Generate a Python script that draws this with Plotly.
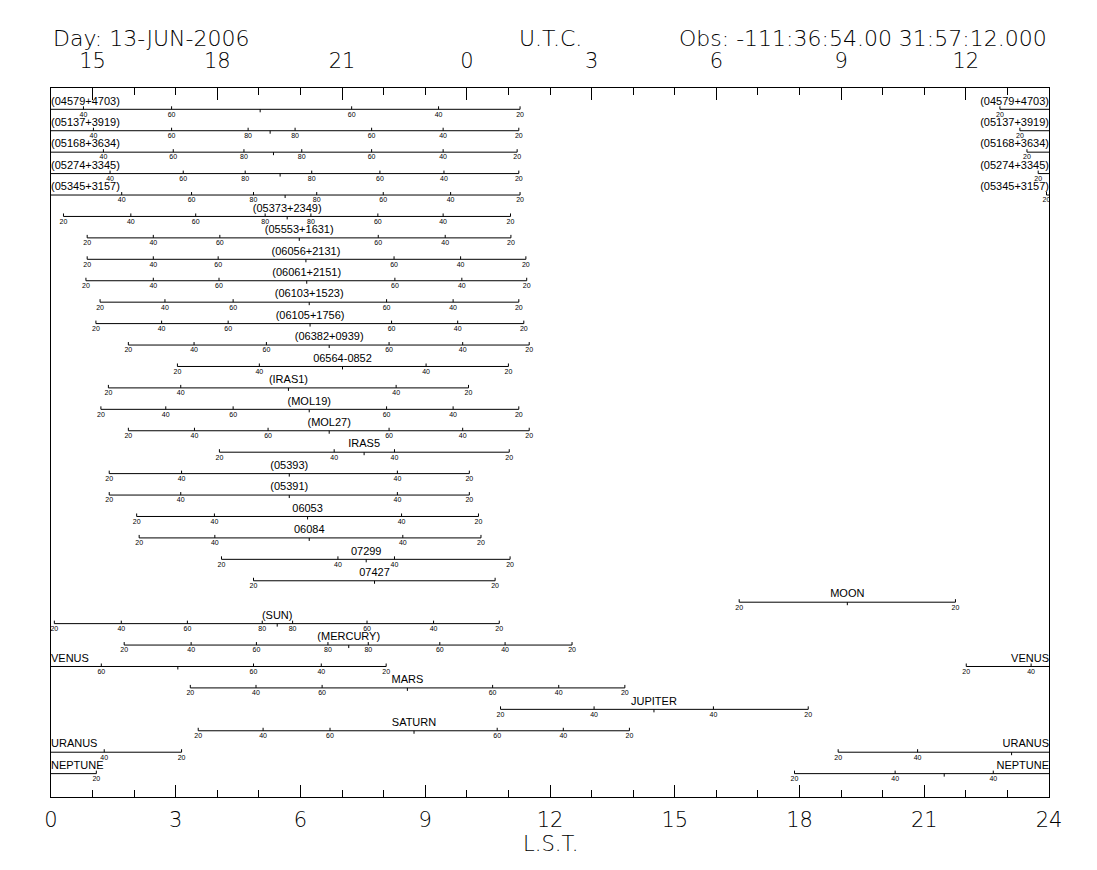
import plotly.graph_objects as go

# header / axis texts
day_text = "Day: 13-JUN-2006"
utc_title = "U.T.C."
obs_text = "Obs: -111:36:54.00 31:57:12.000"
lst_title = "L.S.T."

# bottom axis is LST, top axis prints UTC (UTC = LST + 14 h)
lst_hours = [0, 3, 6, 9, 12, 15, 18, 21, 24]
utc_hours = [15, 18, 21, 0, 3, 6, 9, 12]
utc_minus_lst = 14

names = [
    "(04579+4703)", "(05137+3919)", "(05168+3634)", "(05274+3345)",
    "(05345+3157)", "(05373+2349)", "(05553+1631)", "(06056+2131)",
    "(06061+2151)", "(06103+1523)", "(06105+1756)", "(06382+0939)",
    "06564-0852", "(IRAS1)", "(MOL19)", "(MOL27)", "IRAS5", "(05393)",
    "(05391)", "06053", "06084", "07299", "07427", "MOON", "(SUN)",
    "(MERCURY)", "VENUS", "MARS", "JUPITER", "SATURN", "URANUS", "NEPTUNE",
]

# LST of transit (meridian crossing) for each object
transit = [
    5.03, 5.27, 5.35, 5.51, 5.63, 5.68, 5.97, 6.13, 6.15, 6.21, 6.23, 6.69,
    7.01, 5.71, 6.21, 6.69, 7.53, 5.73, 5.73, 6.17, 6.21, 7.58, 7.78, 19.15,
    5.44, 7.16, 3.05, 8.57, 14.50, 8.73, 23.10, 21.48,
]

# LST where the object crosses each elevation, in time order (rise -> set)
tick_lst = [
    [22.82, 0.78, 2.90, 7.23, 9.32, 11.28],
    [23.30, 1.02, 2.90, 4.74, 5.87, 7.71, 9.43, 11.25],
    [23.47, 1.26, 2.94, 4.64, 6.03, 7.71, 9.43, 11.21],
    [23.74, 1.42, 3.18, 4.67, 6.27, 7.91, 9.45, 11.25],
    [23.94, 1.70, 3.38, 4.87, 6.39, 7.99, 9.61, 11.28],
    [0.30, 1.92, 3.48, 5.15, 6.25, 7.86, 9.43, 11.05],
    [0.87, 2.46, 4.06, 7.87, 9.48, 11.06],
    [0.87, 2.46, 4.02, 8.25, 9.85, 11.42],
    [0.84, 2.46, 4.04, 8.27, 9.88, 11.44],
    [1.18, 2.74, 4.38, 8.07, 9.67, 11.25],
    [1.08, 2.66, 4.26, 8.19, 9.78, 11.37],
    [1.86, 3.44, 5.18, 8.13, 9.90, 11.50],
    [3.04, 5.01, 9.02, 11.00],
    [1.38, 3.12, 8.30, 10.04],
    [1.20, 2.76, 4.38, 8.07, 9.67, 11.25],
    [1.86, 3.45, 5.22, 8.13, 9.90, 11.50],
    [4.05, 6.81, 8.26, 11.02],
    [1.40, 3.14, 8.33, 10.06],
    [1.40, 3.12, 8.33, 10.06],
    [2.06, 3.93, 8.43, 10.28],
    [2.12, 3.94, 8.46, 10.34],
    [4.10, 6.90, 8.26, 11.04],
    [4.87, 10.68],
    [16.55, 21.75],
    [0.08, 1.69, 3.28, 5.08, 5.81, 7.60, 9.20, 10.78],
    [1.76, 3.37, 4.94, 6.66, 7.63, 9.35, 10.92, 12.53],
    [22.01, 23.57, 1.21, 4.87, 6.50, 8.06],
    [3.35, 4.93, 6.52, 10.62, 12.21, 13.80],
    [10.81, 13.06, 15.93, 18.21],
    [3.54, 5.10, 6.71, 10.73, 12.32, 13.91],
    [18.93, 20.84, 1.28, 3.14],
    [17.88, 20.30, 22.66, 1.09],
]

tick_elev = [
    [20, 40, 60, 60, 40, 20],
    [20, 40, 60, 80, 80, 60, 40, 20],
    [20, 40, 60, 80, 80, 60, 40, 20],
    [20, 40, 60, 80, 80, 60, 40, 20],
    [20, 40, 60, 80, 80, 60, 40, 20],
    [20, 40, 60, 80, 80, 60, 40, 20],
    [20, 40, 60, 60, 40, 20],
    [20, 40, 60, 60, 40, 20],
    [20, 40, 60, 60, 40, 20],
    [20, 40, 60, 60, 40, 20],
    [20, 40, 60, 60, 40, 20],
    [20, 40, 60, 60, 40, 20],
    [20, 40, 40, 20],
    [20, 40, 40, 20],
    [20, 40, 60, 60, 40, 20],
    [20, 40, 60, 60, 40, 20],
    [20, 40, 40, 20],
    [20, 40, 40, 20],
    [20, 40, 40, 20],
    [20, 40, 40, 20],
    [20, 40, 40, 20],
    [20, 40, 40, 20],
    [20, 20],
    [20, 20],
    [20, 40, 60, 80, 80, 60, 40, 20],
    [20, 40, 60, 80, 80, 60, 40, 20],
    [20, 40, 60, 60, 40, 20],
    [20, 40, 60, 60, 40, 20],
    [20, 40, 40, 20],
    [20, 40, 60, 60, 40, 20],
    [20, 40, 40, 20],
    [20, 40, 40, 20],
]

TICK = 0.14      # tick length in row units (~3 px)
NAME_UP = 0.35   # name sits above its line
LAB_DN = 0.26    # elevation numbers sit below the line

line_x, line_y = [], []
up_x, up_y = [], []
dn_x, dn_y = [], []
lab_x, lab_y, lab_t = [], [], []
name_x, name_y, name_t, name_pos = [], [], [], []

for i, name in enumerate(names):
    xs = tick_lst[i]
    rise, sett = xs[0], xs[-1]
    if rise > sett:
        # object wraps past 24h: two pieces, name at both edges
        line_x += [rise, 24, None, 0, sett, None]
        line_y += [i, i, None, i, i, None]
        name_x += [0, 24]
        name_y += [i - NAME_UP, i - NAME_UP]
        name_t += [name, name]
        name_pos += ["middle right", "middle left"]
    else:
        line_x += [rise, sett, None]
        line_y += [i, i, None]
        name_x.append(transit[i])
        name_y.append(i - NAME_UP)
        name_t.append(name)
        name_pos.append("middle center")
    for x, e in zip(xs, tick_elev[i]):
        up_x += [x, x, None]
        up_y += [i, i - TICK, None]
        lab_x.append(x)
        lab_y.append(i + LAB_DN)
        lab_t.append(str(e))
    dn_x += [transit[i], transit[i], None]
    dn_y += [i, i + TICK, None]

fig = go.Figure()
line_style = dict(color="black", width=1)
fig.add_trace(go.Scatter(x=line_x, y=line_y, mode="lines", line=line_style,
                         hoverinfo="skip"))
fig.add_trace(go.Scatter(x=up_x, y=up_y, mode="lines", line=line_style,
                         hoverinfo="skip"))
fig.add_trace(go.Scatter(x=dn_x, y=dn_y, mode="lines", line=line_style,
                         hoverinfo="skip"))
fig.add_trace(go.Scatter(x=lab_x, y=lab_y, mode="text", text=lab_t,
                         textposition="middle center",
                         textfont=dict(family="Liberation Sans", size=7,
                                       color="black"),
                         hoverinfo="skip"))
fig.add_trace(go.Scatter(x=name_x, y=name_y, mode="text", text=name_t,
                         textposition=name_pos,
                         textfont=dict(family="Liberation Sans", size=11,
                                       color="black"),
                         hoverinfo="skip"))
# dummy trace so the UTC axis is drawn
fig.add_trace(go.Scatter(x=[0, 24], y=[None, None], xaxis="x2",
                         mode="lines", hoverinfo="skip"))

minor_ticks = dict(tickmode="linear", tick0=0, dtick=1, ticks="inside",
                   ticklen=7, tickwidth=1, tickcolor="black")
big_font = "DejaVu Sans ExtraLight, DejaVu Sans, sans-serif"

# the page body has an 8 px margin, so the figure is 8 px smaller each way
fig.update_layout(
    width=1089, height=862,
    margin=dict(l=43, r=48, t=80, b=73),
    plot_bgcolor="white", paper_bgcolor="white",
    showlegend=False,
    font=dict(family=big_font, color="black"),
    xaxis=dict(
        range=[0, 24], tickmode="array", tickvals=lst_hours,
        ticktext=[str(h) for h in lst_hours],
        ticks="inside", ticklen=12, tickwidth=1, tickcolor="black",
        minor=minor_ticks, showgrid=False, zeroline=False,
        showline=True, linecolor="black", linewidth=1, mirror=True,
        tickfont=dict(size=21, weight=200), ticklabelstandoff=4,
    ),
    xaxis2=dict(
        range=[0, 24], overlaying="x", side="top", anchor="y",
        tickmode="array",
        tickvals=[(u - utc_minus_lst) % 24 for u in utc_hours],
        ticktext=[str(u) for u in utc_hours],
        ticks="inside", ticklen=12, tickwidth=1, tickcolor="black",
        minor=minor_ticks, showgrid=False, zeroline=False,
        tickfont=dict(size=21, weight=200), ticklabelstandoff=15,
    ),
    yaxis=dict(
        range=[32.09, -0.994], showticklabels=False, ticks="",
        showgrid=False, zeroline=False,
        showline=True, linecolor="black", linewidth=1, mirror=True,
    ),
    annotations=[
        dict(text=day_text, x=0, y=1.070, xref="paper", yref="paper",
             xanchor="left", yanchor="middle", showarrow=False,
             font=dict(size=22, weight=200)),
        dict(text=utc_title, x=0.5, y=1.070, xref="paper", yref="paper",
             xanchor="center", yanchor="middle", showarrow=False,
             font=dict(size=22, weight=200)),
        dict(text=obs_text, x=1, y=1.070, xref="paper", yref="paper",
             xanchor="right", yanchor="middle", showarrow=False,
             font=dict(size=22, weight=200)),
        dict(text=lst_title, x=0.5, y=-0.0663, xref="paper", yref="paper",
             xanchor="center", yanchor="middle", showarrow=False,
             font=dict(size=21, weight=200)),
    ],
)

fig.write_html("out.html")
